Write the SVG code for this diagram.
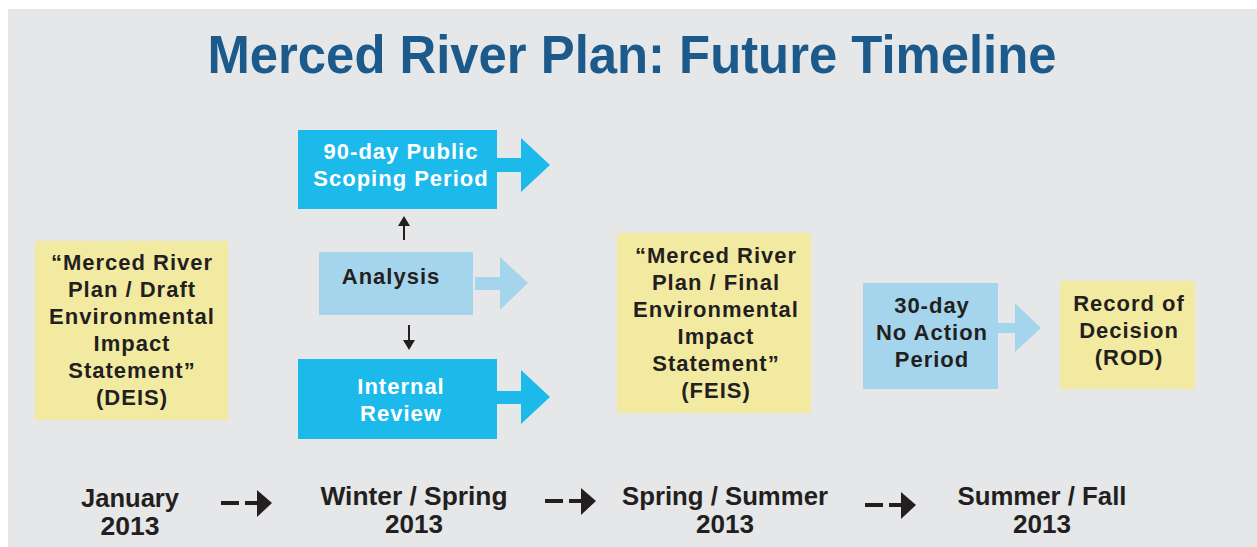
<svg xmlns="http://www.w3.org/2000/svg" width="1257" height="547" viewBox="0 0 1257 547">
<style>
.t{font-family:"Liberation Sans",Arial,sans-serif;font-weight:700;font-size:22px;letter-spacing:1px;text-anchor:middle;fill:#231f20}
.w{fill:#ffffff}
.tl{font-family:"Liberation Sans",Arial,sans-serif;font-weight:700;font-size:25px;text-anchor:middle;fill:#231f20}
.yel{fill:#f3eaa2}
.blu{fill:#1cb9eb}
.lbl{fill:#a5d5ec}
.blk{fill:#231f20}
</style>
<rect x="0" y="0" width="1257" height="547" fill="#ffffff"/>
<rect x="8" y="9" width="1249" height="538" fill="#e6e7e9"/>
<text x="632" y="73" font-family="'Liberation Sans',Arial,sans-serif" font-weight="700" font-size="53" fill="#1c5a8c" text-anchor="middle" textLength="849" lengthAdjust="spacingAndGlyphs">Merced River Plan: Future Timeline</text>

<g id="deis">
<rect class="yel" x="35" y="241" width="193" height="179"/>
<text class="t" x="132" y="270">“Merced River</text>
<text class="t" x="132" y="297">Plan / Draft</text>
<text class="t" x="132" y="324">Environmental</text>
<text class="t" x="132" y="351">Impact</text>
<text class="t" x="132" y="378">Statement”</text>
<text class="t" x="132" y="405">(DEIS)</text>
</g>
<g id="scoping">
<rect class="blu" x="298" y="130" width="199" height="79"/>
<text class="t w" x="401" y="159">90-day Public</text>
<text class="t w" x="401" y="186">Scoping Period</text>
</g>
<g id="analysis">
<rect class="lbl" x="319" y="252" width="154" height="63"/>
<text class="t" x="391" y="284">Analysis</text>
</g>
<g id="review">
<rect class="blu" x="298" y="359" width="199" height="80"/>
<text class="t w" x="401" y="394">Internal</text>
<text class="t w" x="401" y="421">Review</text>
</g>
<g id="feis">
<rect class="yel" x="617" y="233" width="194" height="180"/>
<text class="t" x="716" y="263">“Merced River</text>
<text class="t" x="716" y="290">Plan / Final</text>
<text class="t" x="716" y="317">Environmental</text>
<text class="t" x="716" y="344">Impact</text>
<text class="t" x="716" y="371">Statement”</text>
<text class="t" x="716" y="398">(FEIS)</text>
</g>
<g id="noaction">
<rect class="lbl" x="863" y="283" width="135" height="106"/>
<text class="t" x="932" y="313">30-day</text>
<text class="t" x="932" y="340">No Action</text>
<text class="t" x="932" y="367">Period</text>
</g>
<g id="rod">
<rect class="yel" x="1060" y="281" width="135" height="108"/>
<text class="t" x="1129" y="311">Record of</text>
<text class="t" x="1129" y="338">Decision</text>
<text class="t" x="1129" y="365">(ROD)</text>
</g>

<g id="timeline">
<text class="tl" x="130" y="507" textLength="98" lengthAdjust="spacingAndGlyphs">January</text>
<text class="tl" x="130" y="535" textLength="59" lengthAdjust="spacingAndGlyphs">2013</text>
<text class="tl" x="414" y="505" textLength="187" lengthAdjust="spacingAndGlyphs">Winter / Spring</text>
<text class="tl" x="414" y="533" textLength="58" lengthAdjust="spacingAndGlyphs">2013</text>
<text class="tl" x="725" y="505" textLength="206" lengthAdjust="spacingAndGlyphs">Spring / Summer</text>
<text class="tl" x="725" y="533" textLength="58" lengthAdjust="spacingAndGlyphs">2013</text>
<text class="tl" x="1042" y="505" textLength="169" lengthAdjust="spacingAndGlyphs">Summer / Fall</text>
<text class="tl" x="1042" y="533" textLength="58" lengthAdjust="spacingAndGlyphs">2013</text>
</g>

<g id="connectors">
<polygon class="blu" points="497,158 521,158 521,138 550,165 521,192 521,172 497,172"/>
<polygon class="lbl" points="475,277 500,277 500,257 528,283 500,310 500,290 475,290"/>
<polygon class="blu" points="497,391 521,391 521,370 550,397 521,424 521,404 497,404"/>
<polygon class="lbl" points="998,323 1015,323 1015,303 1041,328 1015,352 1015,333 998,333"/>
<line x1="404" y1="240" x2="404" y2="224" stroke="#231f20" stroke-width="2"/>
<polygon class="blk" points="404,216 398,226 410,226"/>
<line x1="409" y1="325" x2="409" y2="342" stroke="#231f20" stroke-width="2"/>
<polygon class="blk" points="409,350 403,340 415,340"/>
<g id="dash1">
<rect class="blk" x="221" y="501" width="18" height="4"/>
<rect class="blk" x="245" y="501" width="13" height="4"/>
<polygon class="blk" points="257,490 272,503 257,517"/>
</g>
<g id="dash2">
<rect class="blk" x="545" y="499" width="18" height="4"/>
<rect class="blk" x="569" y="499" width="13" height="4"/>
<polygon class="blk" points="581,488 596,501 581,515"/>
</g>
<g id="dash3">
<rect class="blk" x="865" y="503" width="18" height="4"/>
<rect class="blk" x="889" y="503" width="13" height="4"/>
<polygon class="blk" points="901,492 916,505 901,519"/>
</g>
</g>
</svg>
